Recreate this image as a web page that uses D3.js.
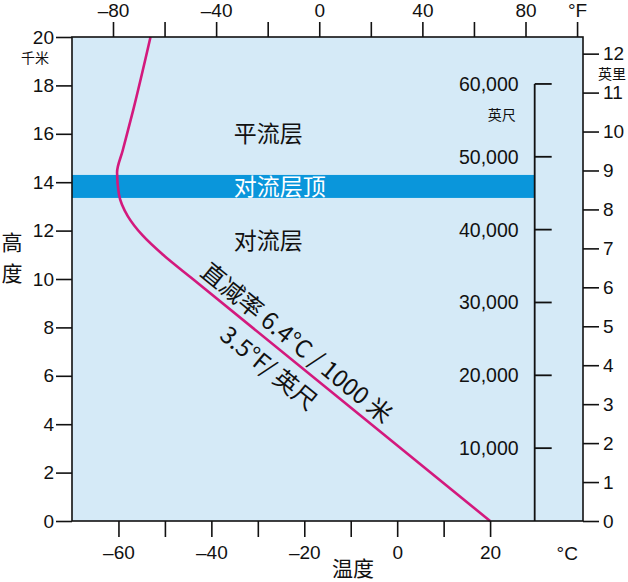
<!DOCTYPE html>
<html><head><meta charset="utf-8">
<script src="https://cdn.jsdelivr.net/npm/d3@7"></script>
<style>
body{margin:0;background:#fff}
svg{display:block}
text{font-family:"Liberation Sans",Arial,Helvetica,sans-serif;fill:#111}
.cjk{font-family:"Noto Sans CJK SC","Noto Sans",sans-serif}
</style>
</head><body>
<svg id="c" width="628" height="582"></svg>
<script>
// ---- data ----
const kmTicks = [0, 2, 4, 6, 8, 10, 12, 14, 16, 18, 20];
const cTicks = [-60, -50, -40, -30, -20, -10, 0, 10, 20];
const cLabels = [-60, -40, -20, 0, 20];
const fTicks = [-80, -60, -40, -20, 0, 20, 40, 60, 80, 100];
const fLabels = [-80, -40, 0, 40, 80];
const mileTicks = [0, 1, 2, 3, 4, 5, 6, 7, 8, 9, 10, 11, 12];
const ftTicks = [10000, 20000, 30000, 40000, 50000, 60000];
const profileKm = [0, 10, 11, 11.8, 12.6, 13.5, 14.4, 15.3, 17, 20];
const profileC  = [20, -44, -50.4, -54.8, -58.0, -59.9, -60.3, -59.1, -56.8, -53.1];
const tropopauseKm = [13.35, 14.3];
const lapseRateC = 6.4;
const layerNames = ["平流层", "对流层顶", "对流层"];
const lapseText1 = "直减率 6.4°C / 1000 米";
const lapseText2 = "3.5°F/ 英尺";

// ---- layout ----
const svg = d3.select("#c");
const L = 72, R = 583, T = 37, B = 521;
const x = d3.scaleLinear().domain([-70, 40]).range([L, R]);
const xF = d3.scaleLinear().domain([-95.9, 102.3]).range([L, R]);
const y = d3.scaleLinear().domain([0, 20]).range([B, T]);
const yMi = d3.scaleLinear().domain([0, 20 / 1.609344]).range([B, T]);
const yFt = d3.scaleLinear().domain([0, 60000]).range([B, y(18.06)]);
const innerX = x(29.6);

svg.append("rect").attr("width", 628).attr("height", 582).attr("fill", "#fff");
svg.append("rect").attr("x", L).attr("y", T).attr("width", R - L).attr("height", B - T)
  .attr("fill", "#d5eaf7");

// tropopause band
svg.append("rect").attr("x", L).attr("y", y(tropopauseKm[1]))
  .attr("width", innerX - L).attr("height", y(tropopauseKm[0]) - y(tropopauseKm[1]))
  .attr("fill", "#0a96db");

// profile line
const pts = profileKm.map((k, i) => [profileC[i], k]);
svg.append("path").datum(pts)
  .attr("d", d3.line().x(d => x(d[0])).y(d => y(d[1])).curve(d3.curveMonotoneY))
  .attr("fill", "none").attr("stroke", "#d3197d").attr("stroke-width", 2.6);

// layer labels
const labelPos = [[-35.2, 16.0], [-35.2, 13.82], [-35.2, 11.58]];
svg.selectAll("text.layer").data(layerNames).join("text")
  .attr("class", "layer cjk")
  .attr("x", (d, i) => x(labelPos[i][0]))
  .attr("y", (d, i) => y(labelPos[i][1]))
  .attr("dy", "0.36em")
  .style("font-size", "23px")
  .style("fill", (d, i) => i === 1 ? "#fff" : "#111")
  .text(d => d);

// lapse-rate labels
const ang = Math.atan2(y(0) - y(1), x(20) - x(20 - lapseRateC)) * 180 / Math.PI;
function lapseLabel(km, off, txt) {
  const gx = x(20 - lapseRateC * km), gy = y(km);
  svg.append("g").attr("transform", `translate(${gx},${gy}) rotate(${ang})`)
    .append("text").attr("class", "cjk").attr("text-anchor", "middle")
    .attr("y", off).attr("dy", "0.36em").style("font-size", "24px").text(txt);
}
lapseLabel(6.85, -16, lapseText1);
lapseLabel(7.0, 21, lapseText2);

// border
svg.append("rect").attr("x", L).attr("y", T).attr("width", R - L).attr("height", B - T)
  .attr("fill", "none").attr("stroke", "#111").attr("stroke-width", 1.6);

function styleAxis(sel, size) {
  sel.select(".domain").remove();
  sel.selectAll("line").attr("stroke", "#111").attr("stroke-width", 1.6);
  sel.selectAll("text").style("font-size", size + "px").attr("fill", "#111")
    .style("font-family", '"Liberation Sans",Arial,sans-serif');
}

// left km axis
svg.append("g").attr("transform", `translate(${L},0)`)
  .call(d3.axisLeft(y).tickValues(kmTicks).tickSize(16).tickPadding(2))
  .call(s => styleAxis(s, 19));
svg.append("text").attr("class", "cjk").attr("x", 35).attr("y", y(19.15)).attr("dy", "0.36em")
  .attr("text-anchor", "middle").style("font-size", "14px").text("千米");
svg.append("text").attr("class", "cjk").attr("x", 12).attr("y", y(11.5)).attr("dy", "0.36em")
  .attr("text-anchor", "middle").style("font-size", "21px").text("高");
svg.append("text").attr("class", "cjk").attr("x", 12).attr("y", y(10.25)).attr("dy", "0.36em")
  .attr("text-anchor", "middle").style("font-size", "21px").text("度");

// bottom C axis
svg.append("g").attr("transform", `translate(0,${B})`)
  .call(d3.axisBottom(x).tickValues(cTicks).tickSize(16).tickPadding(9)
    .tickFormat(d => cLabels.includes(d) ? (d < 0 ? "–" + (-d) : d) : ""))
  .call(s => styleAxis(s, 19));
svg.append("text").attr("x", x(36.6)).attr("y", 553).attr("dy", "0.36em")
  .attr("text-anchor", "middle").style("font-size", "19px").text("°C");
svg.append("text").attr("class", "cjk").attr("x", x(-9.5)).attr("y", 568).attr("dy", "0.36em")
  .attr("text-anchor", "middle").style("font-size", "21px").text("温度");

// top F axis
svg.append("g").attr("transform", `translate(0,${T})`)
  .call(d3.axisTop(xF).tickValues(fTicks).tickSize(15).tickPadding(5)
    .tickFormat(d => d === 100 ? "°F" : fLabels.includes(d) ? (d < 0 ? "–" + (-d) : d) : ""))
  .call(s => styleAxis(s, 19));

// right miles axis
svg.append("g").attr("transform", `translate(${R},0)`)
  .call(d3.axisRight(yMi).tickValues(mileTicks).tickSize(16).tickPadding(4))
  .call(s => styleAxis(s, 19));
svg.append("text").attr("class", "cjk").attr("x", 612).attr("y", yMi(11.47)).attr("dy", "0.36em")
  .attr("text-anchor", "middle").style("font-size", "14px").text("英里");

// inner feet axis
const gi = svg.append("g");
gi.append("line").attr("x1", innerX).attr("x2", innerX).attr("y1", yFt(0)).attr("y2", yFt(60000))
  .attr("stroke", "#111").attr("stroke-width", 1.8);
gi.selectAll("line.t").data(ftTicks).join("line").attr("class", "t")
  .attr("x1", innerX).attr("x2", innerX + 17).attr("y1", d => yFt(d)).attr("y2", d => yFt(d))
  .attr("stroke", "#111").attr("stroke-width", 1.8);
gi.selectAll("text.t").data(ftTicks).join("text").attr("class", "t")
  .attr("x", innerX - 16).attr("y", d => yFt(d)).attr("dy", "0.36em")
  .attr("text-anchor", "end").style("font-size", "19.5px").text(d => d3.format(",")(d));
gi.append("text").attr("class", "cjk").attr("x", innerX - 19).attr("y", yFt(55800)).attr("dy", "0.36em")
  .attr("text-anchor", "end").style("font-size", "14px").text("英尺");
</script>
</body></html>
